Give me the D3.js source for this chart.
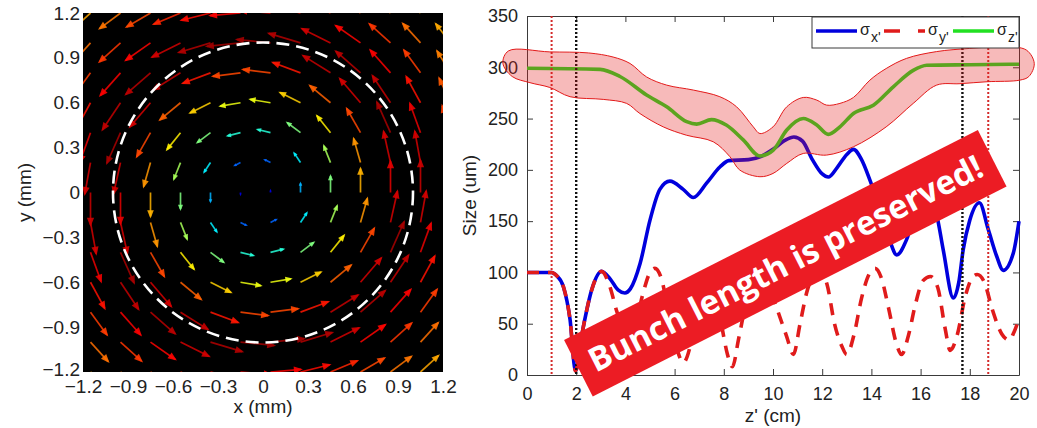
<!DOCTYPE html>
<html>
<head>
<meta charset="utf-8">
<script src="https://cdn.jsdelivr.net/npm/d3@7"></script>
<style>
  body { margin: 0; background: #fff; }
  svg { display: block; }
  text { font-family: "Liberation Sans", Arial, sans-serif; fill: #222; }
</style>
</head>
<body>
<script>
// ---------- left panel data (field map) ----------
var fieldTicks = [-1.2, -0.9, -0.6, -0.3, 0, 0.3, 0.6, 0.9, 1.2];
// arrow tails sit on a regular grid
var gridX = [-1.35, -1.15, -0.95, -0.75, -0.55, -0.35, -0.15, 0.05, 0.25, 0.45, 0.65, 0.85, 1.05, 1.25];
var gridY = [-1.2, -1.0, -0.8, -0.6, -0.4, -0.2, 0, 0.2, 0.4, 0.6, 0.8, 1.0, 1.2];
var vortexCenter = [-0.05, 0];
// field strength (normalised) against radius
var fieldR = [0, 0.3, 0.5, 0.7, 0.9, 1.0, 1.2, 1.4, 1.6, 2.0];
var fieldMag = [0, 0.3, 0.5, 0.7, 0.9, 0.97, 0.88, 0.8, 0.72, 0.6];
var beamRadius = 1.0;

// ---------- right panel data (sizes along z') ----------
var zTicks = [0, 2, 4, 6, 8, 10, 12, 14, 16, 18, 20];
var sizeTicks = [0, 50, 100, 150, 200, 250, 300, 350];

var sigmaXz = [0,1.0,1.2,1.48,1.75,1.97,2.29,2.63,3.03,3.4,3.7,3.98,4.2,4.6,5.0,5.4,5.81,6.35,6.76,
  7.3,7.85,8.2,9.0,9.5,10.0,10.5,10.85,11.2,11.6,12.0,12.25,12.6,13.0,13.27,13.6,13.94,14.4,14.76,15.03,
  15.43,15.8,16.15,16.45,16.65,16.92,17.33,17.55,17.73,18.0,18.39,18.75,19.09,19.36,19.77,20];
var sigmaX = [100,100,97,86,54,4,47,83,101,93,83,80,84,109,151,181,189,181,173,
  187,203,209,210,213,220,229,232,228,210,196,193,202,215,220,210,190,158,130,117,
  132,158,170,166,156,122,75,90,122,151,168,142,116,102,119,150];

var sigmaYz = [0,1.0,1.2,1.48,1.75,1.97,2.29,2.63,3.03,3.37,3.65,3.9,4.15,4.4,4.7,5.0,5.2,5.45,5.8,
  6.1,6.35,6.6,6.9,7.2,7.35,7.6,7.9,8.15,8.35,8.6,8.9,9.3,9.55,9.85,10.2,10.55,10.83,11.1,11.4,
  11.7,11.95,12.2,12.5,12.8,13.0,13.3,13.6,13.9,14.15,14.4,14.7,15.0,15.23,15.5,15.8,16.1,16.4,16.7,17.0,
  17.2,17.5,17.8,18.1,18.3,18.6,18.9,19.3,19.6,19.8,20];
var sigmaY = [100,100,97,86,54,4,47,83,101,86,62,45,38,48,78,100,104,95,55,
  25,12,25,65,95,100,90,50,20,8,35,70,97,100,85,62,38,20,50,83,
  98,100,88,50,28,20,40,75,98,104,95,65,32,20,38,70,92,96,85,45,
  24,40,75,95,98,90,65,40,34,42,55];

var sigmaZz = [0,2.97,3.78,4.86,5.68,6.49,6.9,7.5,8.1,8.8,9.47,10.0,10.56,11.23,11.78,12.25,12.72,13.27,14.08,14.89,15.7,16.25,18,20];
var sigmaZ = [299,298,291,273,261.5,247,244.6,249,243.7,229,213.5,219,238.8,250,243.7,234.6,242,255,263,281,297,302,302.5,303];

// hand-drawn highlight around sigma z (outline, left tip -> right tip on top, back along bottom)
var bandTopZ = [-0.98,-0.75,0.93,2.5,3.5,4.19,4.86,5.68,6.76,7.84,8.52,9.2,9.47,10.0,10.56,11.23,11.78,12.18,12.72,13.27,13.94,14.6,15.43,16.65,18.0,19.36,20.3,20.62];
var bandTop = [304,316,315,314,310,303.7,290.6,282.6,277.8,271.3,261.5,241.9,235.4,241.9,261.5,270.6,268,263.1,264.8,270.6,287.5,298.8,308.7,315.3,318.4,320,316.8,303.7];
var bandBotZ = [20.4,20.04,18.7,17.6,16.65,15.7,14.6,13.27,12.18,11.23,10.56,10.0,9.47,8.65,8.25,7.57,6.48,5.54,4.59,4.05,3.1,1.75,0.93,0.12,-0.6];
var bandBot = [291,287.5,285.9,284,282.6,264.8,241.9,222.5,214.4,216,206.3,196.5,193.3,199.8,212.8,227.4,233.8,241.9,254.9,264.8,268.7,271.3,280.3,285,291];

var redMarkers = [1.0, 18.75];
var blackMarkers = [2.0, 17.7];

var legendNames = ["x'", "y'", "z'"];
var bannerText = "Bunch length is preserved!";

var W = 1037, H = 428;
var svg = d3.select("body").append("svg").attr("width", W).attr("height", H);

// ================= left panel =================
var fx = d3.scaleLinear().domain([-1.2, 1.2]).range([83, 443]);
var fy = d3.scaleLinear().domain([-1.2, 1.2]).range([372, 13]);
var jet = d3.scaleLinear()
  .domain([0, 0.125, 0.375, 0.625, 0.875, 1])
  .range(["#00008f", "#0000ff", "#00ffff", "#ffff00", "#ff0000", "#800000"])
  .clamp(true);
var strength = d3.scaleLinear().domain(fieldR).range(fieldMag).clamp(true);
var arrowLen = d3.scaleLinear().domain([0, 1]).range([0, 37]);

var left = svg.append("g");
left.append("clipPath").attr("id", "fclip").append("rect")
  .attr("x", fx(-1.2)).attr("y", fy(1.2))
  .attr("width", fx(1.2) - fx(-1.2)).attr("height", fy(-1.2) - fy(1.2));
left.append("rect")
  .attr("x", fx(-1.2)).attr("y", fy(1.2))
  .attr("width", fx(1.2) - fx(-1.2)).attr("height", fy(-1.2) - fy(1.2))
  .attr("fill", "#000");

var arrows = [];
gridY.forEach(function (gy) {
  gridX.forEach(function (gx) {
    var dx = gx - vortexCenter[0], dy = gy - vortexCenter[1];
    var r = Math.sqrt(dx * dx + dy * dy);
    // counter-clockwise, tangential; screen y points down
    arrows.push({ x: gx, y: gy, ux: -dy / r, uy: -dx / r, f: strength(r) });
  });
});

function arrowGeom(d) {
  var px = fx(d.x), py = fy(d.y), L = arrowLen(d.f);
  return { x0: px, y0: py, x1: px + d.ux * L, y1: py + d.uy * L, ux: d.ux, uy: d.uy, L: L };
}

var ag = left.append("g").attr("clip-path", "url(#fclip)");
ag.selectAll(".shaft").data(arrows).enter().append("line")
  .attr("class", "shaft")
  .attr("x1", function (d) { return arrowGeom(d).x0; })
  .attr("y1", function (d) { return arrowGeom(d).y0; })
  .attr("x2", function (d) { var g = arrowGeom(d); return g.x1 - g.ux * 2; })
  .attr("y2", function (d) { var g = arrowGeom(d); return g.y1 - g.uy * 2; })
  .attr("stroke", function (d) { return jet(d.f); })
  .attr("stroke-width", 1.7)
  .attr("stroke-opacity", 0.85);
ag.selectAll(".head").data(arrows).enter().append("path")
  .attr("class", "head")
  .attr("d", function (d) {
    var g = arrowGeom(d), h = Math.min(9, 0.26 * g.L + 1.5), w = h * 0.4;
    var bx = g.x1 - g.ux * h, by = g.y1 - g.uy * h;
    return "M" + g.x1 + "," + g.y1 + "L" + (bx - g.uy * w) + "," + (by + g.ux * w) +
      "L" + (bx + g.uy * w) + "," + (by - g.ux * w) + "Z";
  })
  .attr("fill", function (d) { return jet(d.f); })
  .attr("fill-opacity", 0.9);

left.append("circle")
  .attr("cx", fx(0)).attr("cy", fy(0)).attr("r", fx(beamRadius) - fx(0))
  .attr("fill", "none").attr("stroke", "#fff").attr("stroke-width", 2.6)
  .attr("stroke-dasharray", "13,7");

var fmt = function (d) { return d === 0 ? "0" : d3.format(".1f")(d); };
var lxAxis = left.append("g").attr("transform", "translate(0," + fy(-1.2) + ")")
  .call(d3.axisBottom(fx).tickValues(fieldTicks).tickSize(0).tickPadding(8).tickFormat(fmt));
var lyAxis = left.append("g").attr("transform", "translate(" + fx(-1.2) + ",0)")
  .call(d3.axisLeft(fy).tickValues(fieldTicks).tickSize(0).tickPadding(3).tickFormat(fmt));
[lxAxis, lyAxis].forEach(function (a) {
  a.select(".domain").remove();
  a.selectAll("text").style("font-size", "19px").attr("fill", "#222")
    .style("font-family", "'Liberation Sans', Arial, sans-serif");
});
// lowest y label sits a touch higher so it clears the x labels
lyAxis.selectAll(".tick").filter(function (d) { return d === -1.2; })
  .select("text").attr("dy", "0.2em");

left.append("text").attr("x", fx(0)).attr("y", 413).attr("text-anchor", "middle")
  .style("font-size", "19px").text("x (mm)");
left.append("text").attr("transform", "translate(31," + fy(0) + ") rotate(-90)")
  .attr("text-anchor", "middle").style("font-size", "19px").text("y (mm)");

// ================= right panel =================
var zx = d3.scaleLinear().domain([0, 20]).range([527, 1019]);
var sy = d3.scaleLinear().domain([0, 350]).range([375, 16]);
var right = svg.append("g");

var axisColor = "#3a3a3a";
var rb = right.append("g").attr("transform", "translate(0," + sy(0) + ")")
  .call(d3.axisBottom(zx).tickValues(zTicks).tickSizeInner(-6).tickSizeOuter(0).tickPadding(12));
var rt = right.append("g").attr("transform", "translate(0," + sy(350) + ")")
  .call(d3.axisTop(zx).tickValues(zTicks).tickSizeInner(-6).tickSizeOuter(0).tickFormat(""));
var rl = right.append("g").attr("transform", "translate(" + zx(0) + ",0)")
  .call(d3.axisLeft(sy).tickValues(sizeTicks).tickSizeInner(-6).tickSizeOuter(0).tickPadding(9));
var rr = right.append("g").attr("transform", "translate(" + zx(20) + ",0)")
  .call(d3.axisRight(sy).tickValues(sizeTicks).tickSizeInner(-6).tickSizeOuter(0).tickFormat(""));
[rb, rt, rl, rr].forEach(function (a) {
  a.select(".domain").attr("stroke", axisColor);
  a.selectAll("line").attr("stroke", axisColor);
  a.selectAll("text").style("font-size", "18px").attr("fill", "#222")
    .style("font-family", "'Liberation Sans', Arial, sans-serif");
});

right.append("text").attr("x", zx(10)).attr("y", 422).attr("text-anchor", "middle")
  .style("font-size", "19px").text("z' (cm)");
right.append("text").attr("transform", "translate(476," + sy(175) + ") rotate(-90)")
  .attr("text-anchor", "middle").style("font-size", "19px").text("Size (um)");

var blue = "#0000dd", red = "#e01b1b", green = "#22e022";

function series(zs, vs) {
  return zs.map(function (z, i) { return [z, vs[i]]; });
}
var line = d3.line()
  .x(function (d) { return zx(d[0]); })
  .y(function (d) { return sy(d[1]); })
  .curve(d3.curveMonotoneX);

right.append("path").datum(series(sigmaXz, sigmaX)).attr("d", line)
  .attr("fill", "none").attr("stroke", blue).attr("stroke-width", 3.6);
right.append("path").datum(series(sigmaYz, sigmaY)).attr("d", line)
  .attr("fill", "none").attr("stroke", red).attr("stroke-width", 3.6)
  .attr("stroke-dasharray", "12,9");
right.append("path").datum(series(sigmaZz, sigmaZ)).attr("d", line)
  .attr("fill", "none").attr("stroke", green).attr("stroke-width", 3.6);

right.selectAll(".mk-red").data(redMarkers).enter().append("line")
  .attr("x1", zx).attr("x2", zx).attr("y1", sy(350)).attr("y2", sy(0))
  .attr("stroke", "#d42a2a").attr("stroke-width", 2).attr("stroke-dasharray", "2,2");
right.selectAll(".mk-black").data(blackMarkers).enter().append("line")
  .attr("x1", zx).attr("x2", zx).attr("y1", sy(350)).attr("y2", sy(0))
  .attr("stroke", "#111").attr("stroke-width", 2.4).attr("stroke-dasharray", "2,2");

// highlight band over sigma z
var outline = series(bandTopZ, bandTop).concat(series(bandBotZ, bandBot));
right.append("path").datum(outline)
  .attr("d", d3.line()
    .x(function (d) { return zx(d[0]); })
    .y(function (d) { return sy(d[1]); })
    .curve(d3.curveCatmullRomClosed.alpha(0.5)))
  .attr("fill", "#e31a1a").attr("fill-opacity", 0.3)
  .attr("stroke", "#e31a1a").attr("stroke-width", 1);

// legend
var lg = right.append("g");
lg.append("rect").attr("x", 812).attr("y", 17).attr("width", 207).attr("height", 31)
  .attr("fill", "#fff").attr("stroke", axisColor).attr("stroke-width", 1);
var legendX = [816, 884, 953];
var legendColor = [blue, red, green];
legendNames.forEach(function (name, i) {
  lg.append("line").attr("x1", legendX[i]).attr("x2", legendX[i] + 41)
    .attr("y1", 31).attr("y2", 31)
    .attr("stroke", legendColor[i]).attr("stroke-width", 3.6)
    .attr("stroke-dasharray", i === 1 ? "16,18" : null);
  var t = lg.append("text").attr("x", legendX[i] + 44).attr("y", 35).style("font-size", "16px");
  t.append("tspan").text("σ");
  t.append("tspan").attr("dy", 7).attr("dx", 1).style("font-size", "14px").text(name);
});

// banner
var bx = zx(10.5), by = sy(109);
var banner = svg.append("g").attr("transform", "translate(" + bx + "," + by + ") rotate(-26.9)");
banner.append("rect").attr("x", -232).attr("y", -31.7).attr("width", 464).attr("height", 63.4)
  .attr("fill", "#ec1c24");
banner.append("text").attr("x", 0).attr("y", 12).attr("text-anchor", "middle")
  .style("font-family", "'Open Sans', sans-serif").style("font-weight", 700)
  .style("font-size", "33px").style("fill", "#fff")
  .text(bannerText);
</script>
</body>
</html>
